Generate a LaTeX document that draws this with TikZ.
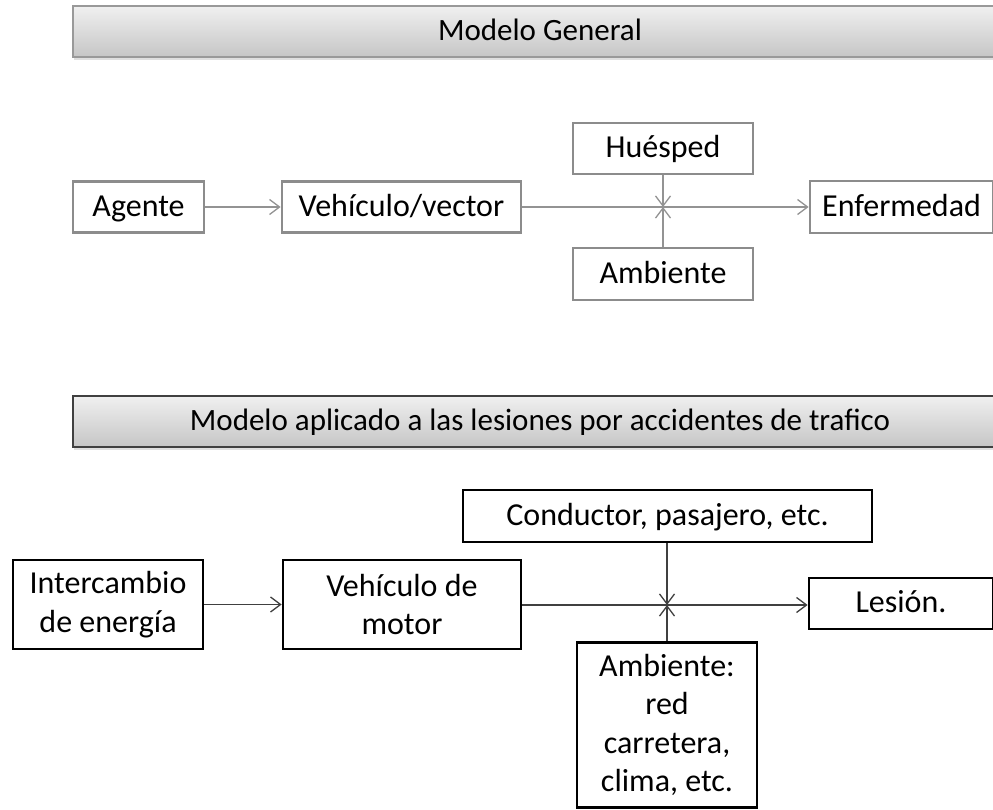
\documentclass[tikz,border=0pt]{standalone}
\usepackage{fontspec}
\setmainfont{Carlito}
\usetikzlibrary{arrows.meta,shadows,positioning}

\begin{document}
\begin{tikzpicture}
  [x=1pt, y=-1pt, font=\fontsize{32}{38.5}\selectfont,
   banner/.style={rectangle, draw=gray!80, line width=1.5pt, top color=gray!12, bottom color=gray!45, minimum width=934pt, minimum height=51pt, text height=23pt, text depth=6pt, font=\fontsize{31}{37}\selectfont, drop shadow={opacity=0.25, shadow xshift=1pt, shadow yshift=-3pt}},
   greybox/.style={rectangle, draw=gray!90, line width=2.8pt, fill=white, inner sep=0pt, minimum height=51pt, text height=24pt, text depth=6pt},
   blackbox/.style={rectangle, draw=black, line width=2.8pt, fill=white, inner sep=0pt, align=center},
   oneline/.style={text height=24pt, text depth=6pt},
   greyline/.style={draw=gray!85, line width=1.3pt, -{Straight Barb[length=10pt,width=15pt]}},
   blackline/.style={draw=black!75, line width=1.3pt, -{Straight Barb[length=10pt,width=15pt]}}]
  \clip (0,0) rectangle (993,809);

  % modelo general
  \node [banner] (general) at (540,31.5) {Modelo General};
  \node [greybox, minimum width=131pt] (agente) at (138.5,207) {Agente};
  \node [greybox, minimum width=239pt] (vehiculo) at (401.5,207) {Vehículo/vector};
  \node [greybox, minimum width=180pt] (huesped) at (663,148.5) {Huésped};
  \node [greybox, minimum width=180pt, minimum height=52pt] (ambiente) at (663,274) {Ambiente};
  \node [greybox, minimum width=183pt, minimum height=52pt] (enfermedad) at (901.5,207) {Enfermedad};
  \coordinate (cruce) at (663,207);

  \draw [greyline] (agente) -- (vehiculo);
  \draw [greyline] (vehiculo) -- (enfermedad);
  \draw [greyline] (huesped) -- (cruce);
  \draw [greyline] (ambiente) -- (cruce);

  % modelo aplicado
  \node [banner, draw=black!75] (aplicado) at (540,421.5) {Modelo aplicado a las lesiones por accidentes de trafico};
  \node [blackbox, minimum width=190pt, minimum height=89pt] (intercambio) at (108,604.5) {Intercambio\\de energía};
  \node [blackbox, minimum width=238pt, minimum height=89pt] (motor) at (402,604.5) {Vehículo de\\motor};
  \node [blackbox, oneline, minimum width=409pt, minimum height=52pt] (conductor) at (667.5,516) {Conductor, pasajero, etc.};
  \node [blackbox, oneline, minimum width=184pt, minimum height=51pt] (lesion) at (901,603.5) {Lesión.};
  \node [blackbox, minimum width=180pt, minimum height=165pt] (entorno) at (667,725) {Ambiente:\\red\\carretera,\\clima, etc.};
  \coordinate (cruce2) at (667,605);

  \draw [blackline] (intercambio) -- (motor);
  \draw [blackline] (motor.east |- cruce2) -- (lesion.west |- cruce2);
  \draw [blackline] (conductor.south -| cruce2) -- (cruce2);
  \draw [blackline] (entorno.north -| cruce2) -- (cruce2);
\end{tikzpicture}
\end{document}
